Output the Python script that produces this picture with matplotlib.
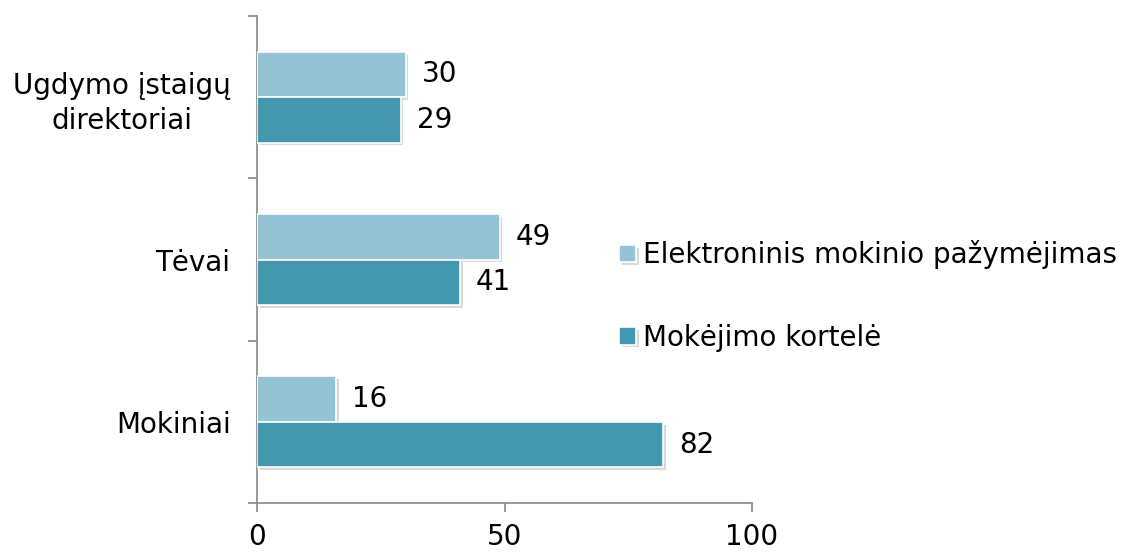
import numpy as np
import matplotlib
matplotlib.use("Agg")
import matplotlib.pyplot as plt
import matplotlib.patheffects as pe

categories = ["Mokiniai", "Tėvai", "Ugdymo įstaigų\ndirektoriai"]
series_names = ["Elektroninis mokinio pažymėjimas", "Mokėjimo kortelė"]
elektroninis = [16, 49, 30]
kortele = [82, 41, 29]

light = "#93C3D5"
dark = "#4397AF"
axis_grey = "#888888"

plt.rcParams['font.family'] = ['DejaVu Sans']
fs = 20

fig = plt.figure(figsize=(11.23, 5.52), dpi=100)
ax = fig.add_axes([257 / 1123, 1 - 503 / 552, 495 / 1123, 487 / 552])

y = np.arange(len(categories))
h = 0.28
shadow = [pe.SimplePatchShadow(offset=(2, -2), shadow_rgbFace='black', alpha=0.15), pe.Normal()]

b1 = ax.barh(y + h / 2, elektroninis, height=h, color=light, edgecolor='white',
             linewidth=1.2, label=series_names[0], zorder=3)
b2 = ax.barh(y - h / 2, kortele, height=h, color=dark, edgecolor='white',
             linewidth=1.2, label=series_names[1], zorder=3)
for bars in (b1, b2):
    for p in bars:
        p.set_path_effects(shadow)

for bars, vals in ((b1, elektroninis), (b2, kortele)):
    for p, v in zip(bars, vals):
        ax.annotate(str(v), (v, p.get_y() + p.get_height() / 2),
                    xytext=(11.5, 0), textcoords='offset points',
                    ha='left', va='center', fontsize=fs, color='black')

ax.set_xlim(0, 100)
ax.set_ylim(-0.5, 2.5)
ax.set_xticks([0, 50, 100])
ax.set_yticks([-0.5, 0.5, 1.5, 2.5])
ax.set_yticklabels([])
ax.set_yticks(y, minor=True)
ax.set_yticklabels(categories, minor=True, fontsize=fs, multialignment='center',
                   linespacing=1.3)
ax.tick_params(axis='y', which='minor', length=0, pad=19)
ax.tick_params(axis='y', which='major', length=6.5, width=1.2, color=axis_grey)
ax.tick_params(axis='x', length=6.5, width=1.2, color=axis_grey, labelsize=fs, pad=8)

for s in ('top', 'right'):
    ax.spines[s].set_visible(False)
for s in ('left', 'bottom'):
    ax.spines[s].set_color(axis_grey)
    ax.spines[s].set_linewidth(1.2)

ax.legend(loc='center left', bbox_to_anchor=(608 / 1123, 1 - 296 / 552),
          bbox_transform=fig.transFigure, frameon=False, fontsize=fs,
          handlelength=0.6, handleheight=0.6, handletextpad=0.25,
          labelspacing=1.95, borderaxespad=0)

fig.savefig("out.png", dpi=100)
